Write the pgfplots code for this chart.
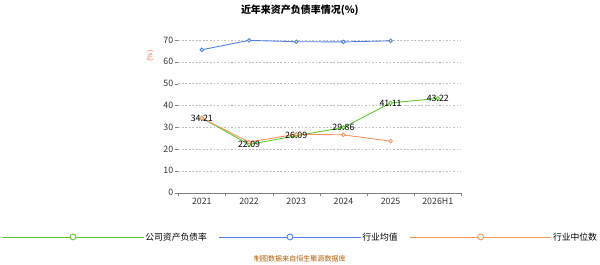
\documentclass[border=0pt]{standalone}
\usepackage{pgfplots}
\pgfplotsset{compat=1.18}
\usepackage{fontspec}
\setmainfont{Noto Sans CJK SC}
\definecolor{cg}{HTML}{5DC82A}
\definecolor{cb}{HTML}{4F7FE0}
\definecolor{co}{HTML}{F4935C}
\begin{document}
\begin{tikzpicture}[x=1pt,y=1pt]
\path (0,0) rectangle (600,450);
\node[font=\fontsize{17}{20}\selectfont\bfseries] at (300,432) {近年来资产负债率情况(\%)};
\node[font=\fontsize{12}{14}\selectfont, text=co!70!red, rotate=90] at (45,355) {(\%)};
\node[font=\fontsize{12}{14}\selectfont, text=orange!70!black] at (300,10) {制图数据来自恒生聚源数据库};
\begin{axis}[at={(93pt,122pt)}, anchor=south west, scale only axis,
 width=482pt, height=260pt, xmin=-0.5, xmax=5.5, ymin=0, ymax=70, clip=false,
 axis x line*=bottom, axis y line*=left, y axis line style={draw=none},
 ytick={0,10,...,70}, ymajorgrids, grid style={dashed, gray!50},
 y tick style={draw=gray},
 xtick={0,...,5}, xticklabels={2021,2022,2023,2024,2025,2026H1},
 minor xtick={-0.5,0.5,...,5.5}, x tick style={draw=none},
 minor x tick style={draw=gray}, minor tick length=6pt, major tick length=5pt, tick align=outside,
 x axis line style={gray},
 ticklabel style={font=\fontsize{15}{18}\selectfont, text=black!80},
 /pgf/number format/assume math mode=true,
 legend columns=3, legend style={at={(0.43,-0.29)}, anchor=center, draw=none,
  font=\fontsize{15}{18}\selectfont, /tikz/every even column/.append style={column sep=18pt}},
 legend image code/.code={\draw[#1] (0,0)--(0.5,0); \draw[#1, fill=white] (0.25,0) circle (5pt);}]
\addplot[cg, line width=1.5pt, mark=*, mark size=3pt, mark options={fill=white},
 nodes near coords, point meta=explicit symbolic,
 every node near coord/.style={anchor=center, font=\fontsize{15}{18}\selectfont, text=black}]
 coordinates {(0,34.21)[34.21] (1,22.09)[22.09] (2,26.09)[26.09] (3,29.86)[29.86] (4,41.11)[41.11] (5,43.22)[43.22]};
\addlegendentry{公司资产负债率}
\addplot[cb, line width=1.5pt, mark=*, mark size=3pt, mark options={fill=white}]
 coordinates {(0,65.5) (1,69.8) (2,69.2) (3,69.1) (4,69.6)};
\addlegendentry{行业均值}
\addplot[co, line width=1.5pt, mark=*, mark size=3pt, mark options={fill=white}]
 coordinates {(0,34.2) (1,23.2) (2,26.8) (3,26.5) (4,23.6)};
\addlegendentry{行业中位数}
\end{axis}
\end{tikzpicture}
\end{document}
